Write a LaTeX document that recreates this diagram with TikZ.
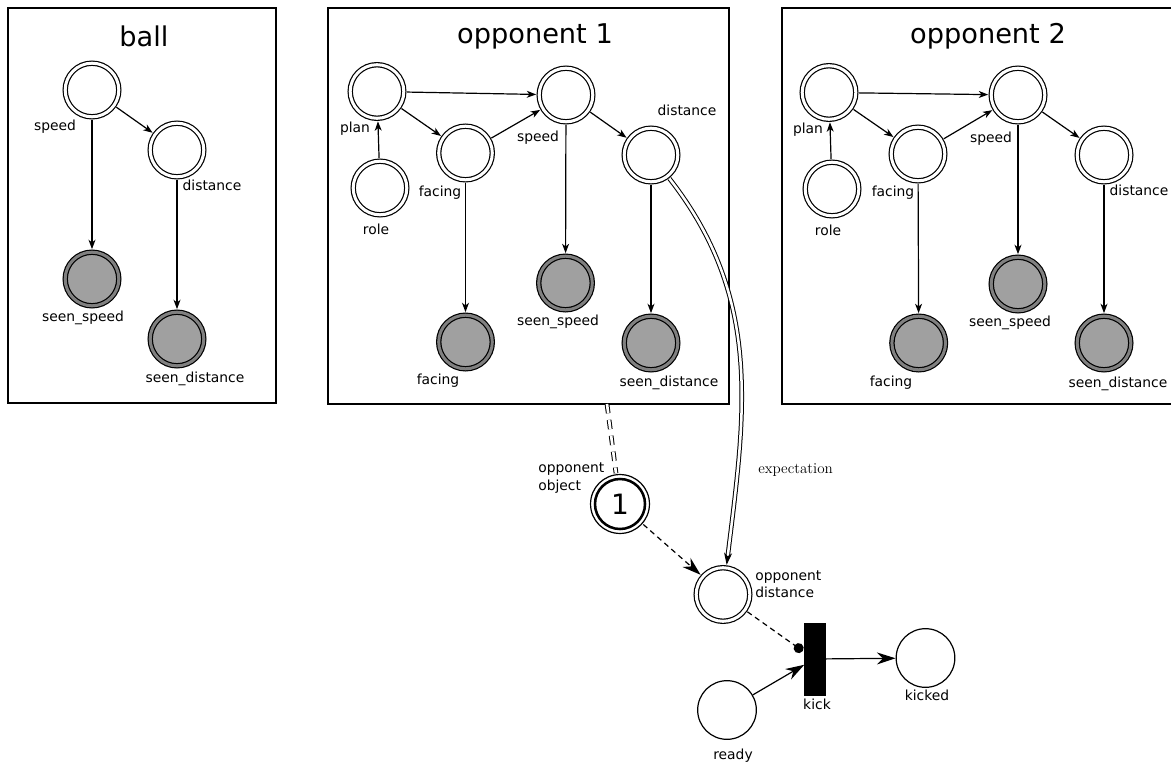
\documentclass[tikz,border=0pt]{standalone}
\usepackage{fontspec}
\setsansfont{DejaVu Sans}
\usetikzlibrary{arrows.meta,calc}

\definecolor{ringgray}{HTML}{808080}
\definecolor{seengray}{HTML}{A0A0A0}

\begin{document}
\begin{tikzpicture}[
    x=0.75pt, y=-0.75pt,
    font=\sffamily,
    lw/.style={line width=0.9pt},
    box/.style={draw, lw, rectangle, inner sep=0pt},
    title/.style={font=\sffamily\fontsize{20.4pt}{24pt}\selectfont, anchor=base, inner sep=0pt},
    lbl/.style={font=\sffamily\fontsize{10.4pt}{12.5pt}\selectfont, inner sep=0pt,
                text height=0.76em, text depth=0.24em},
    mlbl/.style={font=\sffamily\fontsize{10.4pt}{13pt}\selectfont, inner sep=0pt,
                 align=left, anchor=west},
    place/.style={circle, draw, lw, double=white, double distance=2.25pt,
                  fill=white, minimum size=40.2pt, inner sep=0pt, outer sep=2.3pt},
    seen/.style={place, double=ringgray, fill=seengray},
    simple/.style={circle, draw, lw, fill=white, minimum size=44pt, inner sep=0pt},
    token/.style={circle, draw, line width=1.9pt, minimum size=37.5pt, inner sep=0pt,
                  outer sep=4.5pt, font=\sffamily\fontsize{21pt}{24pt}\selectfont},
    trans/.style={rectangle, fill=black, draw=black, minimum width=15.75pt,
                  minimum height=54pt, inner sep=0pt},
    arr/.style={lw, -{Stealth[length=7pt, width=5.2pt, inset=2pt]}},
    bigarr/.style={lw, -{Stealth[length=14pt, width=9pt, inset=4.5pt]}},
    dline/.style={line width=0.75pt, double=white, double distance=1.9pt},
]
\useasboundingbox (0,0) rectangle (1171,763);

% ---------------- ball ----------------
\node[box, minimum width=201pt, minimum height=296.25pt] (ballbox) at (142,205.5) {};
\node[title] (balltitle) at (144,47) {ball};
\node[place] (bsp) at (92,90) {};
\node[place] (bdi) at (177,150) {};
\node[seen]  (bss) at (92,279) {};
\node[seen]  (bsd) at (177,339) {};
\node[lbl] (lbsp) at (55,127) {speed};
\node[lbl] (lbdi) at (212,187) {distance};
\node[lbl] (lbss) at (83,318) {seen\_speed};
\node[lbl] (lbsd) at (195,379) {seen\_distance};
\draw[arr] (bsp) -- (bdi);
\draw[arr] (bsp) -- (bss);
\draw[arr] (bdi) -- (bsd);

% ---------------- opponent 1 ----------------
\node[box, minimum width=300.75pt, minimum height=297pt] (opp1box) at (528.5,206) {};
\node[title] (opp1title) at (535,44) {opponent 1};
\node[place] (aplan) at (377,91.5) {};
\node[place] (arole) at (380,188) {};
\node[place] (afac)  at (465.5,153) {};
\node[place] (aspd)  at (566,95) {};
\node[place] (adis)  at (651,155) {};
\node[seen]  (asfac) at (465.5,342) {};
\node[seen]  (asspd) at (565.5,283) {};
\node[seen]  (asdis) at (651,343) {};
\node[lbl] (laplan) at (355,129) {plan};
\node[lbl] (larole) at (376,231) {role};
\node[lbl] (lafac)  at (440,193) {facing};
\node[lbl] (laspd)  at (538,138) {speed};
\node[lbl] (ladis)  at (687,112) {distance};
\node[lbl] (lasfac) at (438,381) {facing};
\node[lbl] (lasspd) at (558,322) {seen\_speed};
\node[lbl] (lasdis) at (669,383) {seen\_distance};
\draw[arr] (arole) -- (aplan);
\draw[arr] (aplan) -- (aspd);
\draw[arr] (aplan) -- (afac);
\draw[arr] (afac) -- (aspd);
\draw[arr] (aspd) -- (adis);
\draw[arr] (afac) -- (asfac);
\draw[arr] (aspd) -- (asspd);
\draw[arr] (adis) -- (asdis);

% ---------------- opponent 2 ----------------
\node[box, minimum width=309.75pt, minimum height=297pt] (opp2box) at (988.5,206) {};
\node[title] (opp2title) at (988,44) {opponent 2};
\node[place] (bplan) at (829,92.5) {};
\node[place] (brole) at (832,189) {};
\node[place] (bfac)  at (918,154) {};
\node[place] (bspd)  at (1018,95) {};
\node[place] (bdis)  at (1104,155) {};
\node[seen]  (bsfac) at (918.7,343) {};
\node[seen]  (bsspd) at (1018,284) {};
\node[seen]  (bsdis) at (1104,343) {};
\node[lbl] (lbplan) at (808,130) {plan};
\node[lbl] (lbrole) at (828,232) {role};
\node[lbl] (lbfac)  at (893,193) {facing};
\node[lbl] (lbspd)  at (991,139) {speed};
\node[lbl] (lbdis)  at (1139,192) {distance};
\node[lbl] (lbsfac) at (891,383) {facing};
\node[lbl] (lbsspd) at (1010,323) {seen\_speed};
\node[lbl] (lbsdis) at (1118,384) {seen\_distance};
\draw[arr] (brole) -- (bplan);
\draw[arr] (bplan) -- (bspd);
\draw[arr] (bplan) -- (bfac);
\draw[arr] (bfac) -- (bspd);
\draw[arr] (bspd) -- (bdis);
\draw[arr] (bfac) -- (bsfac);
\draw[arr] (bspd) -- (bsspd);
\draw[arr] (bdis) -- (bsdis);

% ---------------- kick net ----------------
\node[token] (tok) at (620,504) {1};
\draw[lw] (tok.center) circle[radius=22.1pt];
\node[mlbl] (ltok) at (538,478) {opponent\\object};

\node[place] (od) at (723,594.5) {};
\node[mlbl] (lod) at (755,584) {opponent\\distance};

\node[trans] (kick) at (815,659) {};
\node[lbl] (lkick) at (817,706) {kick};
\node[simple] (kicked) at (925.5,658) {};
\node[lbl] (lkicked) at (927,697) {kicked};
\node[simple] (ready) at (727,710) {};
\node[lbl] (lready) at (733,756) {ready};

% link from the opponent 1 box to its token
\coordinate (o1link) at (607,404);
\draw[line width=0.75pt, double=white, double distance=2pt, dash pattern=on 7pt off 5pt]
  (o1link) -- (tok);

% expectation arc
\draw[dline, -{Stealth[length=9pt, width=6pt, inset=2.5pt]}]
  (adis) to[out=-52, in=83] (od);
\node[font=\rmfamily\fontsize{11.3pt}{13pt}\selectfont, anchor=west, inner sep=0pt]
  (lexp) at (758,470) {expectation};

\draw[bigarr, dash pattern=on 4pt off 3pt] (tok) -- (od);
\draw[lw, dash pattern=on 4pt off 3pt, -{Circle[length=7.5pt]}]
  (od) -- ($(kick.north west)!0.39!(kick.south west)+(-1.5,0)$);
\draw[bigarr] (ready) -- ($(kick.north west)!0.58!(kick.south west)$);
\draw[bigarr] (kick) -- (kicked);
\end{tikzpicture}
\end{document}
